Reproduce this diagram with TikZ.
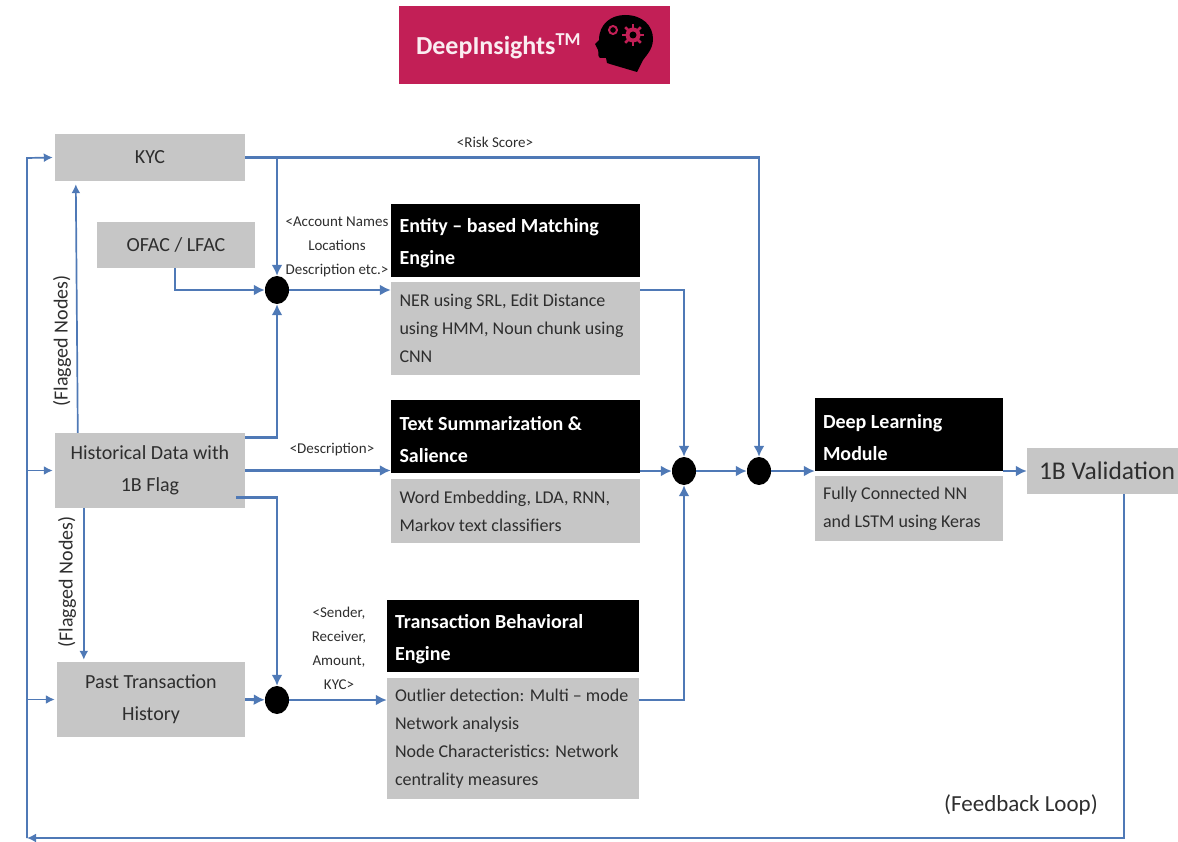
\documentclass[tikz,border=0pt]{standalone}
\usepackage{fontspec}
\setmainfont{Carlito}
\usepackage{xcolor}
\usepackage{tikz}
\usetikzlibrary{arrows.meta}
\usetikzlibrary{shapes.geometric}
\usetikzlibrary{calc}

\definecolor{boxgray}{HTML}{C6C6C6}
\definecolor{linkblue}{HTML}{4F79B6}
\definecolor{logored}{HTML}{C21F56}
\definecolor{inkgray}{HTML}{2E2E2E}

\tikzset{
  srcbox/.style={fill=boxgray, text=inkgray, inner sep=0pt, align=center, font=\fontsize{20}{32}\selectfont},
  headbox/.style={fill=black, text=white, inner sep=0pt, text width=#1, align=flush left, font=\fontsize{20}{32}\selectfont\bfseries, execute at begin node={\rule{0pt}{20pt}}},
  bodybox/.style={fill=boxgray, text=inkgray, inner sep=0pt, text width=#1, align=flush left, font=\fontsize{18}{28}\selectfont},
  junction/.style={ellipse, fill=black, minimum width=24pt, minimum height=28pt, inner sep=0pt},
  link/.style={draw=linkblue, line width=2.8pt, -{Latex[length=11pt,width=11pt]}},
  thinlink/.style={draw=linkblue, line width=1.7pt, -{Latex[length=9pt,width=9pt]}},
  tag/.style={text=inkgray, inner sep=0pt, align=center, font=\fontsize{15}{24}\selectfont},
  flagtag/.style={text=inkgray, inner sep=0pt, rotate=90, font=\fontsize{20}{24}\selectfont}
}

\begin{document}
\begin{tikzpicture}[x=1pt,y=-1pt]
\useasboundingbox (0,0) rectangle (1178,842);
% logo
\node[fill=logored, minimum width=271pt, minimum height=78pt, inner sep=0pt] (logo) at (534.5,45) {};
\node[text=white!92!logored, inner sep=0pt, font=\fontsize{26}{26}\selectfont\bfseries] (logotext) at (498.5,46) {DeepInsights\textsuperscript{TM}};
\fill[black] (607,63) -- (606,58) -- (600,58) .. controls (597,56) and (599,52) .. (598,50) -- (595,44) -- (599,40) .. controls (599,24) and (611,15) .. (625,15) .. controls (643,15) and (653,26) .. (653,39) .. controls (653,51) and (644,57) .. (642,62) -- (637,72) -- (610,64) -- cycle;
\draw[logored, line width=2pt] (613,30) circle (4);
\fill[logored] (633,35) circle (7.5);
\foreach \a in {0,45,...,315}
  \draw[logored, line width=2.5pt] (633,35) -- ++(\a:11);
\fill[black] (633,35) circle (3.5);
% left column
\node[srcbox, minimum width=190pt, minimum height=47pt] (kyc) at (150,157.5) {KYC};
\node[srcbox, minimum width=158pt, minimum height=46pt] (ofac) at (176,245) {OFAC / LFAC};
\node[srcbox, minimum width=190pt, minimum height=75pt] (hist) at (150,470.5) {Historical Data with\\1B Flag};
\node[srcbox, minimum width=188pt, minimum height=75pt] (past) at (151,699.5) {Past Transaction\\History};
% engines
\node[headbox=232pt, minimum width=249pt, minimum height=73pt] (entityhead) at (515.5,240.5) {Entity -- based Matching\\Engine};
\node[bodybox=232pt, minimum width=249pt, minimum height=93pt] (entitybody) at (515.5,328.5) {NER using SRL, Edit Distance\\using HMM, Noun chunk using\\CNN};
\node[headbox=232pt, minimum width=249pt, minimum height=73pt] (texthead) at (515.5,436.5) {Text Summarization \&\\Salience};
\node[bodybox=232pt, minimum width=249pt, minimum height=64pt] (textbody) at (515.5,511) {Word Embedding, LDA, RNN,\\Markov text classifiers};
\node[headbox=236pt, minimum width=252pt, minimum height=72pt] (transhead) at (513,636) {Transaction Behavioral\\Engine};
\node[bodybox=236pt, minimum width=252pt, minimum height=121pt] (transbody) at (513,738.5) {Outlier detection: Multi -- mode\\Network analysis\\Node Characteristics: Network\\centrality measures};
\node[headbox=172pt, minimum width=188pt, minimum height=73pt] (deephead) at (909,434.5) {Deep Learning\\Module};
\node[bodybox=172pt, minimum width=188pt, minimum height=65pt] (deepbody) at (909,508.5) {Fully Connected NN\\and LSTM using Keras};
\node[srcbox, minimum width=151pt, minimum height=46pt, font=\fontsize{25.5}{30}\selectfont] (valid) at (1102.5,471) {\hspace*{9pt}1B Validation};
% junctions
\node[junction] (mergeA) at (277,290) {};
\node[junction] (mergeB) at (277,700) {};
\node[junction] (mergeC) at (684,471) {};
\node[junction] (mergeD) at (759,471) {};
% feedback corners
\coordinate (feedcorner) at (27,838);
\coordinate (feedtop) at (27,158);
% connectors
\draw[link] (kyc.east) -| (mergeD);
\draw[link] (kyc.east -| mergeA) -- (mergeA);
\draw[link] ([xshift=-1pt]ofac.south) |- (mergeA);
\draw[link] (mergeA) -- (mergeA -| entitybody.west);
\draw[link] ([yshift=-5pt]hist.north east) -| (mergeA);
\draw[link] (hist.east) -- (hist.east -| texthead.west);
\draw[link] ([xshift=-9pt,yshift=11pt]hist.south east) -| (mergeB);
\draw[link] (past.east) -- (mergeB);
\draw[link] (mergeB) -- (mergeB -| transbody.west);
\draw[link] (entitybody.east |- mergeA) -| (mergeC);
\draw[link] (texthead.south east |- mergeC) -- (mergeC);
\draw[link] (mergeC) -- (mergeD);
\draw[link] (mergeD) -- (mergeD -| deephead.west);
\draw[link] (transbody.east |- mergeB) -| (mergeC);
\draw[link] (deephead.east |- valid) -- (valid);
\draw[thinlink] ([xshift=23pt]hist.north west) -- ([xshift=21pt,yshift=-3pt]kyc.south west);
\draw[thinlink] ([xshift=29pt]hist.south west) -- ([xshift=27pt,yshift=2pt]past.north west);
\draw[thinlink] (valid.south -| 1124,0) -- (1124,838) -- (feedcorner);
\draw[thinlink] (feedcorner) -- (feedtop) -- ([xshift=-2pt]kyc.west);
\draw[thinlink] (hist.west -| feedcorner) -- ([xshift=-2pt]hist.west);
\draw[thinlink] (past.west -| feedcorner) -- ([xshift=-2pt]past.west);
% labels
\node[tag] (risklabel) at (495,142) {<Risk Score>};
\node[tag] (entitylabel) at (337,247) {<Account Names\\Locations\\Description etc.>};
\node[tag] (desclabel) at (332,450) {<Description>};
\node[tag] (translabel) at (339,648) {<Sender,\\Receiver,\\Amount,\\KYC>};
\node[flagtag] (flagupper) at (62,341) {(Flagged Nodes)};
\node[flagtag] (flaglower) at (67,582) {(Flagged Nodes)};
\node[text=inkgray, inner sep=0pt, font=\fontsize{23}{24}\selectfont] (feedlabel) at (1021,805) {(Feedback Loop)};
\end{tikzpicture}
\end{document}
